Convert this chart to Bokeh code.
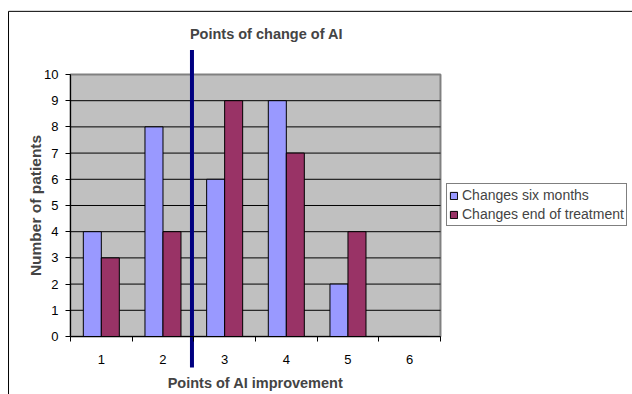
from bokeh.plotting import figure
from bokeh.models import (ColumnDataSource, FixedTicker, Range1d, Legend, LegendItem, Label)
from bokeh.embed import file_html
from bokeh.resources import INLINE

categories = [1, 2, 3, 4, 5, 6]
six_months = [4, 8, 6, 9, 2, 0]
end_of_treatment = [3, 4, 9, 7, 4, 0]
y_ticks = list(range(0, 11))
x_tick_labels = ["1", "2", "3", "4", "5", "6"]
divider_x = 2.47

FONT = "Liberation Sans"

# the frame spans the whole canvas so that the divider can reach outside the plot area
p = figure(width=632, height=394, output_backend="svg", toolbar_location=None,
           x_range=Range1d(-0.635, 9.614), y_range=Range1d(-2.214, 12.824),
           min_border=0)
p.outline_line_color = None
p.background_fill_color = "white"
p.border_fill_color = "white"
p.grid.visible = False

# outer chart border (left/top visible)
p.quad(left=[-0.505], right=[11], bottom=[-4], top=[12.41], fill_color=None,
       line_color="black", line_width=1)

# plot area
p.quad(left=[0.5], right=[6.5], bottom=[0], top=[10], fill_color="#C0C0C0",
       line_color="#808080", line_width=2)
gl = y_ticks[1:-1]
p.segment(x0=[0.5] * len(gl), x1=[6.5] * len(gl), y0=gl, y1=gl, line_color="black", line_width=1)

w = 0.292
src = ColumnDataSource(dict(
    x1=[c - w / 2 for c in categories], y1=six_months,
    x2=[c + w / 2 for c in categories], y2=end_of_treatment))
r1 = p.vbar(x="x1", top="y1", width=w, source=src, fill_color="#9999FF", line_color="black", line_width=1)
r2 = p.vbar(x="x2", top="y2", width=w, source=src, fill_color="#993366", line_color="black", line_width=1)

# axes
p.yaxis.fixed_location = 0.5
p.yaxis.bounds = (0, 10)
p.yaxis.ticker = FixedTicker(ticks=y_ticks)
p.yaxis.major_tick_out = 5
p.yaxis.major_tick_in = 0
p.yaxis.minor_tick_line_color = None
p.yaxis.axis_line_color = "black"
p.yaxis.major_label_text_font = FONT
p.yaxis.major_label_text_font_size = "13px"
p.yaxis.major_label_text_color = "black"
p.yaxis.major_label_standoff = 7
p.yaxis.axis_label = "Number of patients"
p.yaxis.axis_label_text_font = FONT
p.yaxis.axis_label_text_font_style = "bold"
p.yaxis.axis_label_text_font_size = "15.5px"
p.yaxis.axis_label_standoff = -3

p.xaxis.fixed_location = 0
p.xaxis.bounds = (0.5, 6.5)
p.xaxis.ticker = FixedTicker(ticks=categories, minor_ticks=[c - 0.5 for c in categories] + [6.5])
p.xaxis.major_label_overrides = {c: l for c, l in zip(categories, x_tick_labels)}
p.xaxis.major_tick_out = 0
p.xaxis.major_tick_in = 0
p.xaxis.minor_tick_out = 5
p.xaxis.minor_tick_in = 0
p.xaxis.minor_tick_line_color = "black"
p.xaxis.axis_line_color = "black"
p.xaxis.major_label_text_font = FONT
p.xaxis.major_label_text_font_size = "13px"
p.xaxis.major_label_text_color = "black"
p.xaxis.major_label_standoff = 14
p.xaxis.axis_label = "Points of AI improvement"
p.xaxis.axis_label_text_font = FONT
p.xaxis.axis_label_text_font_style = "bold"
p.xaxis.axis_label_text_font_size = "14.5px"
p.xaxis.axis_label_standoff = 7

# title
p.add_layout(Label(x=3.678, y=11.56, text="Points of change of AI", text_font=FONT,
                   text_font_style="bold", text_font_size="14.5px", text_align="center",
                   text_baseline="middle"))

# divider line
p.segment(x0=[divider_x], x1=[divider_x], y0=[10.93], y1=[-1.184],
          line_color="#000080", line_width=4)

legend = Legend(items=[LegendItem(label="Changes six months", renderers=[r1]),
                       LegendItem(label="Changes end of treatment", renderers=[r2])],
                location=(446, 168), border_line_color="black", border_line_width=1,
                label_text_font=FONT, label_text_font_size="14px",
                glyph_width=9, glyph_height=9, label_height=18, spacing=1,
                padding=2, margin=0, label_standoff=4,
                background_fill_alpha=1)
p.add_layout(legend, "center")

open("out.html", "w").write(file_html(p, INLINE))
